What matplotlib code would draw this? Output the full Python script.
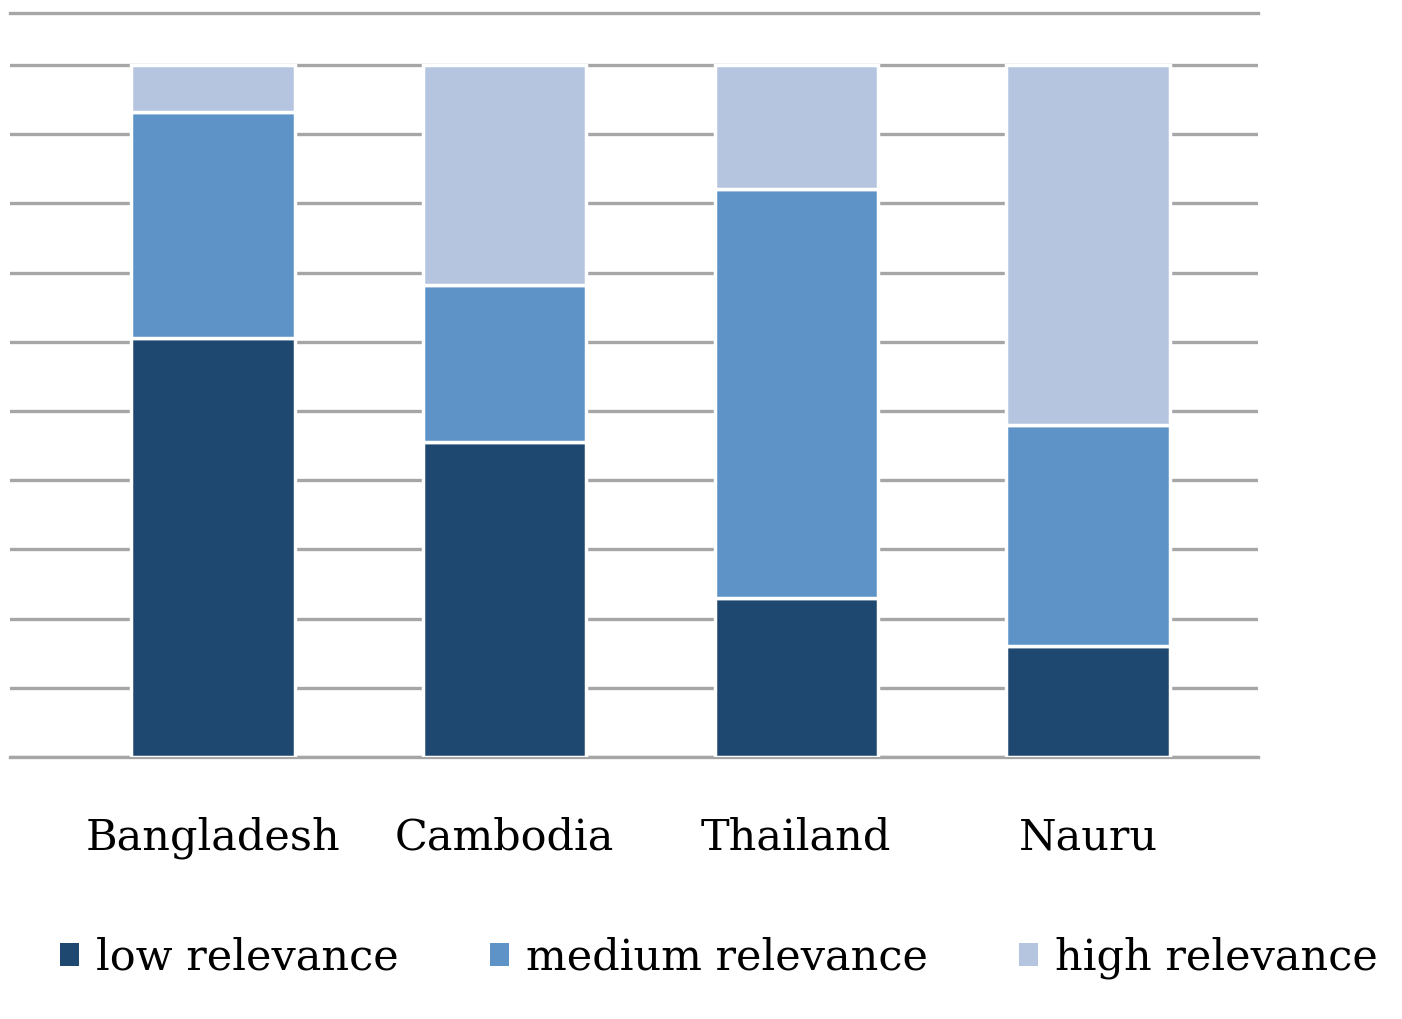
import matplotlib.pyplot as plt
import numpy as np
from matplotlib.patches import Patch

# shares per country (fraction of total)
countries = ["Bangladesh", "Cambodia", "Thailand", "Nauru"]
low = [0.605, 0.455, 0.23, 0.16]
medium = [0.327, 0.227, 0.59, 0.32]
high = [0.068, 0.318, 0.18, 0.52]

series_names = ["low relevance", "medium relevance", "high relevance"]
colors = ["#1F4870", "#5E93C8", "#B5C5DF"]

plt.rcParams["font.family"] = ["DejaVu Serif"]

fig = plt.figure(figsize=(14.02, 10.19), dpi=100)
ax = fig.add_axes([10 / 1402, 1 - 757 / 1019, 1248 / 1402, 744 / 1019])

x = np.arange(len(countries))
width = 0.56
bottom = np.zeros(len(countries))
for vals, col in zip([low, medium, high], colors):
    ax.bar(x, vals, width, bottom=bottom, color=col, edgecolor="white",
           linewidth=2.5, zorder=3)
    bottom += np.array(vals)

ax.set_xlim(-0.696, 3.583)
ax.set_ylim(0, 1.075)
ax.set_yticks(np.arange(0, 1.01, 0.1))
ax.yaxis.grid(True, color="#A6A6A6", linewidth=2.4, zorder=0)
ax.tick_params(axis="y", left=False, labelleft=False)
ax.tick_params(axis="x", length=0, pad=43, labelsize=31)
ax.set_xticks(x)
ax.set_xticklabels(countries)

for s in ["left", "right"]:
    ax.spines[s].set_visible(False)
for s in ["top", "bottom"]:
    ax.spines[s].set_color("#A6A6A6")
    ax.spines[s].set_linewidth(2.4)

handles = [Patch(facecolor=c, edgecolor="none") for c in colors]
fig.legend(handles, series_names, loc="center left", ncol=3,
           bbox_to_anchor=(0.015, 1 - 958 / 1019), frameon=False,
           fontsize=31, handlelength=0.45, handleheight=0.45,
           handletextpad=0.4, columnspacing=2.1)

fig.savefig("out.png", dpi=100)
